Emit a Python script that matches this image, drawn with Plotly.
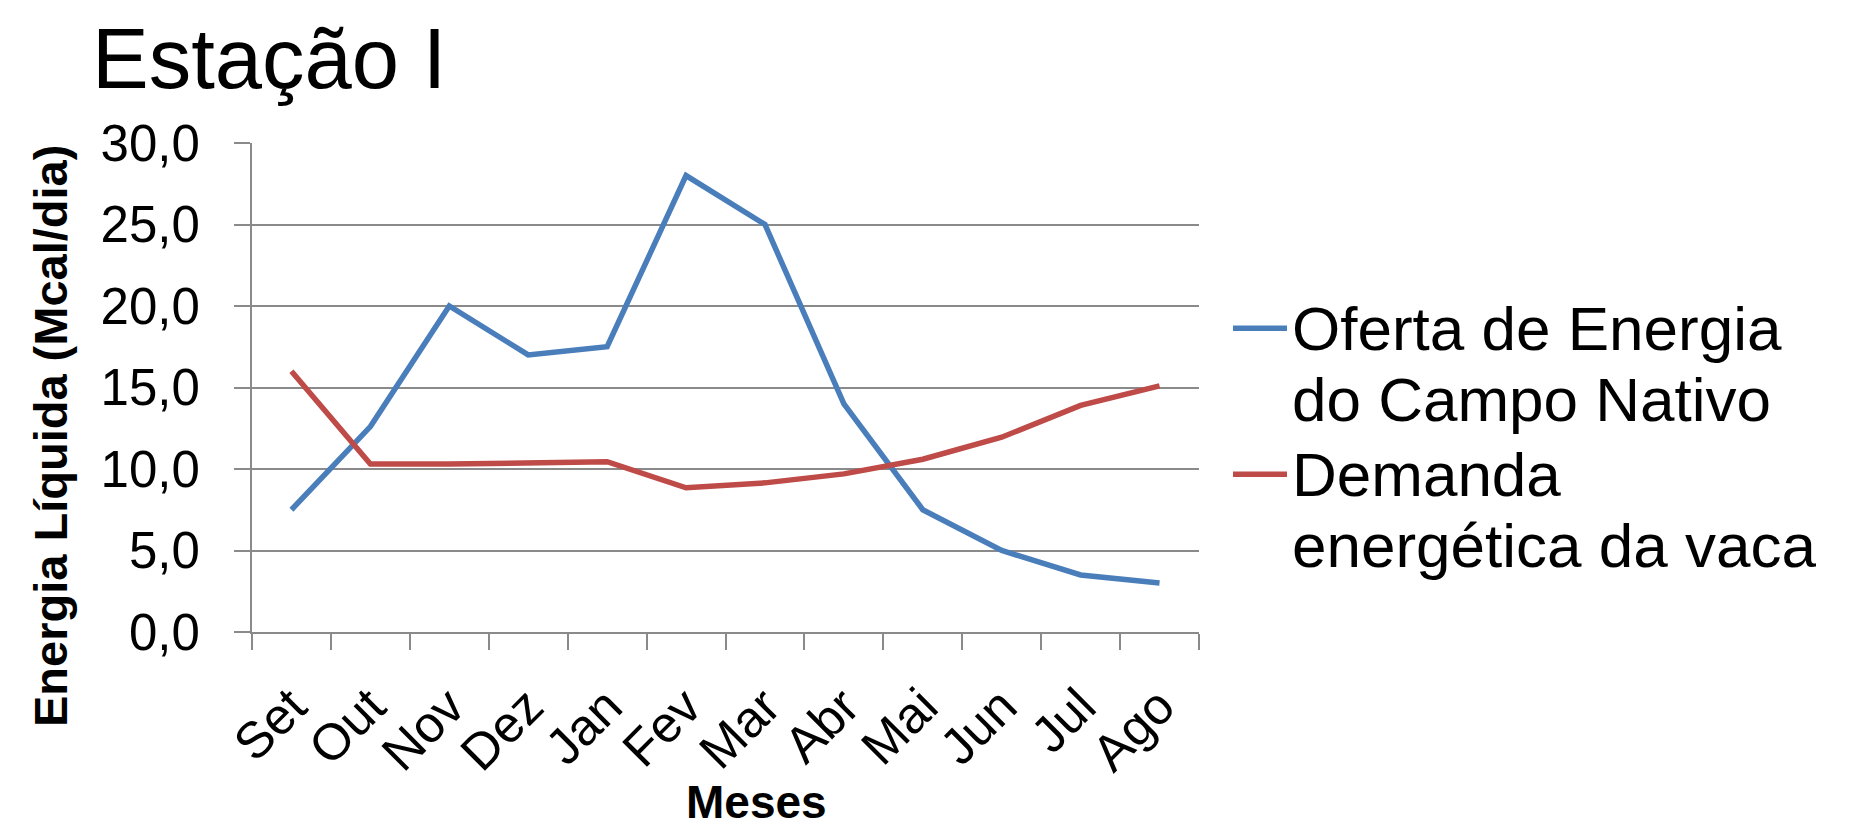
import plotly.graph_objects as go

months = ["Set", "Out", "Nov", "Dez", "Jan", "Fev", "Mar", "Abr", "Mai", "Jun", "Jul", "Ago"]
oferta = [7.5, 12.6, 20.0, 17.0, 17.5, 28.0, 25.0, 14.0, 7.5, 5.0, 3.5, 3.0]
demanda = [16.0, 10.3, 10.3, 10.35, 10.45, 8.85, 9.15, 9.7, 10.6, 11.95, 13.9, 15.1]
y_ticks = [0, 5, 10, 15, 20, 25, 30]

name_oferta = ["Oferta de Energia", "do Campo Nativo"]
name_demanda = ["Demanda", "energética da vaca"]
title_text = "Estação I"
x_title = "Meses"
y_title = "Energia Líquida (Mcal/dia)"

W, H = 1873, 830
L, R, T, B = 252, 1873 - 1199, 143, 830 - 632
PW, PH = W - L - R, H - T - B

FONT = "Liberation Sans, Arial, sans-serif"
GRID = "#8a8a8a"
LEG_GLYPH = 62   # glyph size of legend text
LEG_LINE = 55    # base size driving the line spacing


def px_x(px):
    return (px - L) / PW


def px_y(py):
    return (H - B - py) / PH


def leg_name(lines):
    return "<br>".join('<span style="font-size:%dpx">%s</span>' % (LEG_GLYPH, s) for s in lines)


fig = go.Figure()
fig.add_trace(go.Scatter(x=months, y=oferta, name=leg_name(name_oferta), mode="lines",
                         line=dict(color="#4A7EBB", width=5.5)))
fig.add_trace(go.Scatter(x=months, y=demanda, name=leg_name(name_demanda), mode="lines",
                         line=dict(color="#BE4B48", width=5.5)))

fig.update_layout(
    width=W, height=H,
    margin=dict(l=L, r=R, t=T, b=B),
    paper_bgcolor="white", plot_bgcolor="white",
    separators=", ",
    font=dict(family=FONT, color="black"),
    title=dict(text=title_text, font=dict(size=85, family=FONT, color="black"),
               xref="container", yref="container", x=92 / W, xanchor="left",
               y=1 - 58 / H, yanchor="middle"),
    legend=dict(x=px_x(1228), xanchor="left",
                y=px_y(437), yanchor="middle", valign="top",
                font=dict(size=LEG_LINE, family=FONT, color="black"),
                itemwidth=54, bgcolor="rgba(0,0,0,0)", tracegroupgap=0),
    showlegend=True,
    annotations=[
        dict(text="<b>%s</b>" % x_title, xref="paper", yref="paper",
             x=px_x(756), y=px_y(830), xanchor="center", yanchor="bottom",
             showarrow=False, font=dict(size=46, family=FONT, color="black")),
        dict(text="<b>%s</b>" % y_title, xref="paper", yref="paper", textangle=-90,
             x=px_x(50), y=px_y(436), xanchor="center", yanchor="middle",
             showarrow=False, font=dict(size=47, family=FONT, color="black")),
    ],
)

fig.update_xaxes(
    type="category", range=[-0.5, 11.5],
    showline=True, linecolor=GRID, linewidth=2,
    ticks="outside", tickson="boundaries", ticklen=16, tickcolor=GRID, tickwidth=2,
    tickangle=-45, tickfont=dict(size=51, family=FONT, color="black"),
    ticklabelstandoff=22,
    showgrid=False, zeroline=False,
)
fig.update_yaxes(
    range=[0, 30], tickvals=y_ticks, tickformat=".1f",
    showline=True, linecolor=GRID, linewidth=2,
    ticks="outside", ticklen=16, tickcolor=GRID, tickwidth=2,
    tickfont=dict(size=51, family=FONT, color="black"),
    ticklabelstandoff=24,
    showgrid=True, gridcolor=GRID, gridwidth=2, zeroline=False,
)

# remove the browser's default 8px page margin so the figure fills the window exactly
fig.write_html("out.html", config={"displayModeBar": False},
               post_script="document.body.style.margin='0';")
